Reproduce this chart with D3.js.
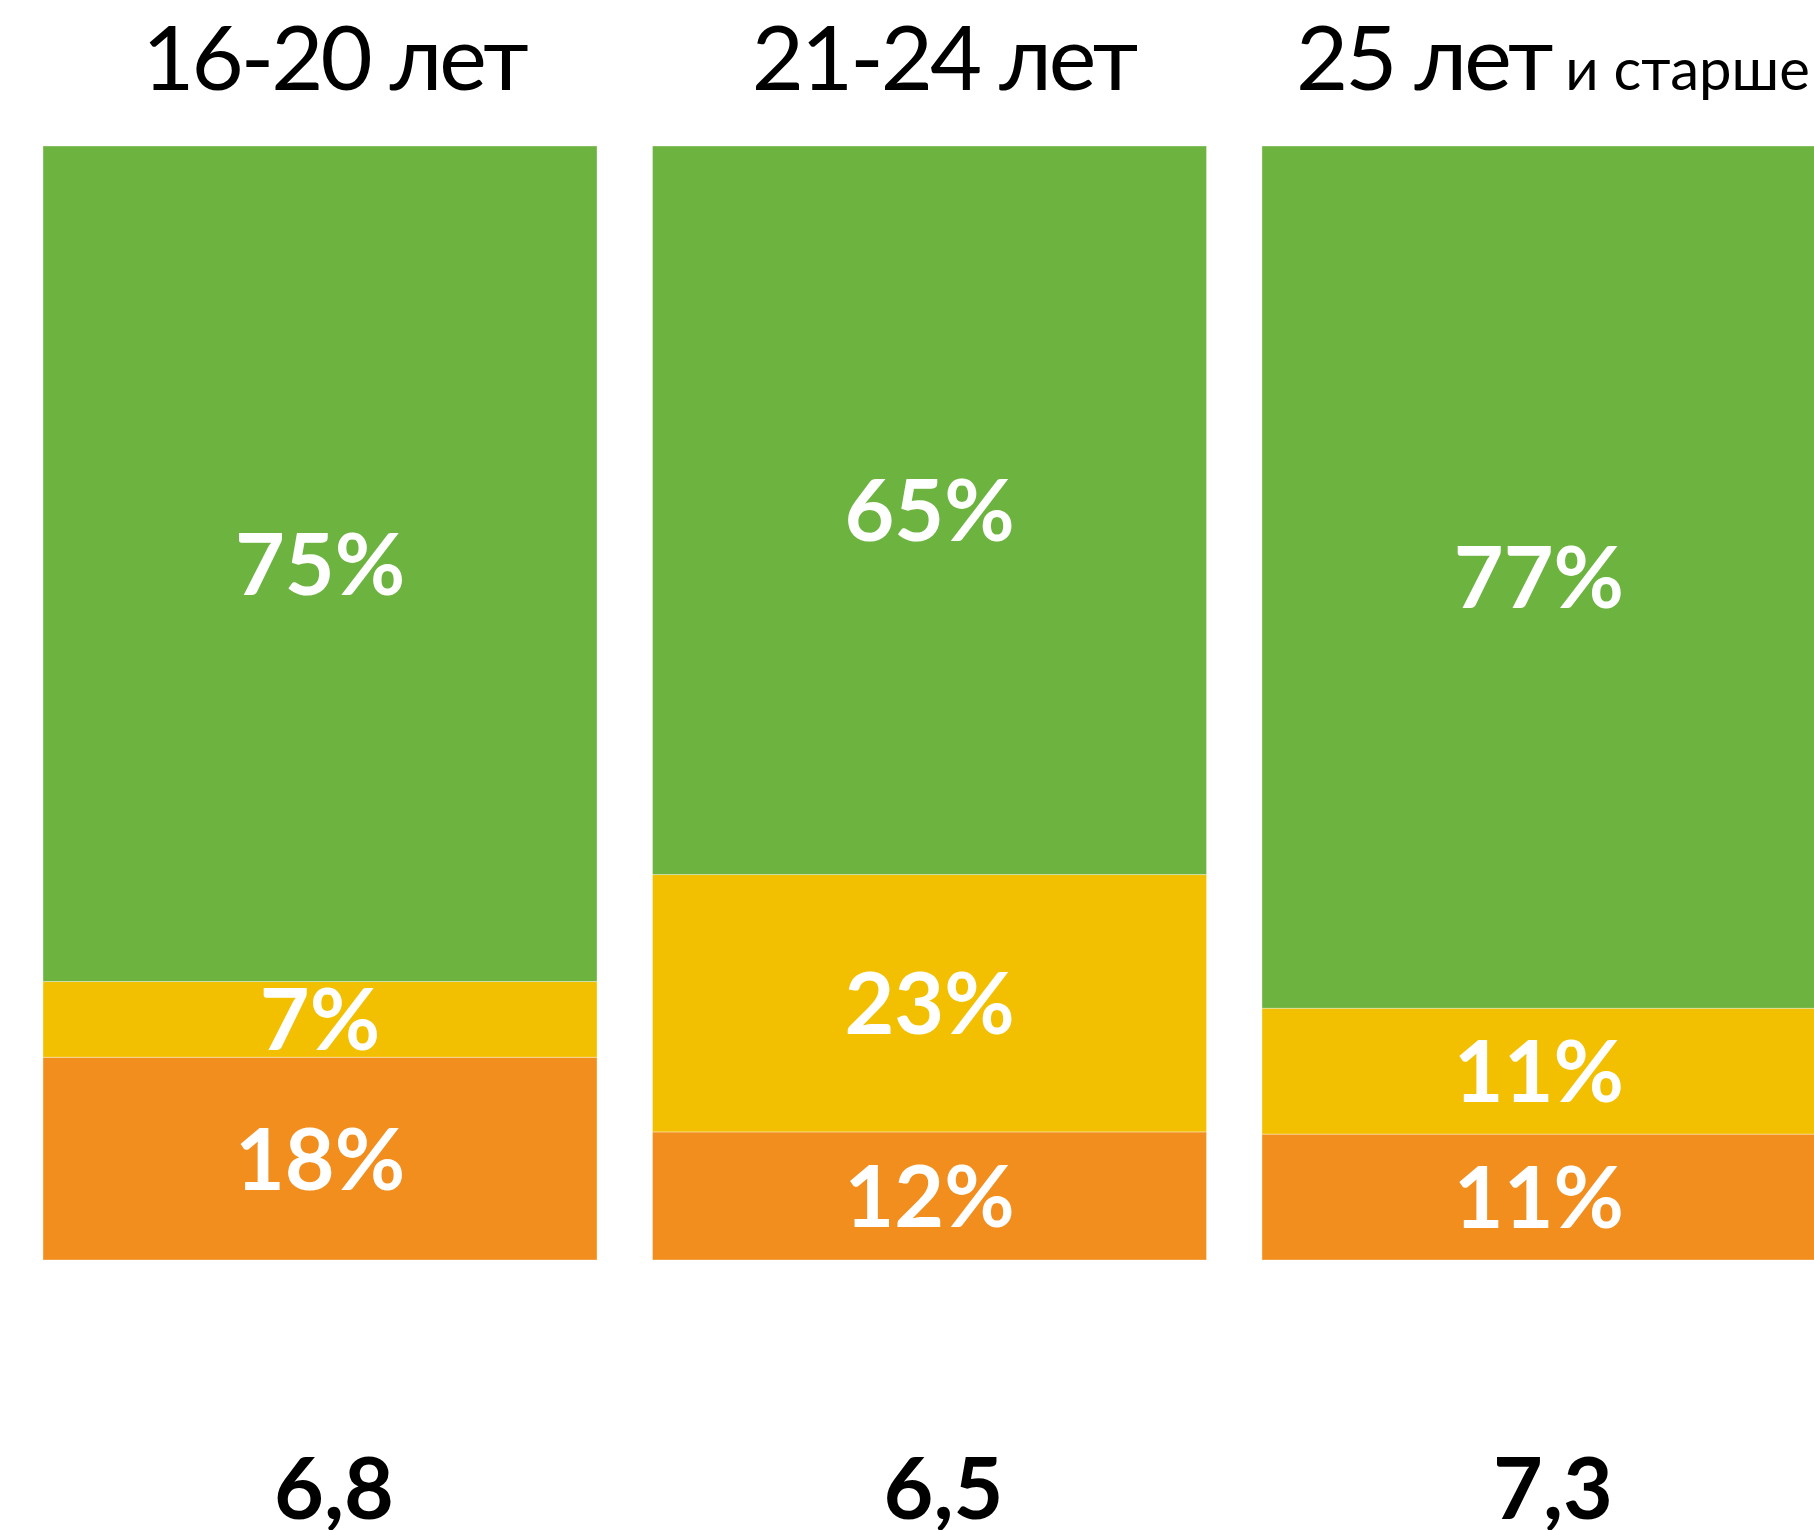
<!DOCTYPE html>
<html>
<head>
<meta charset="utf-8">
<script src="https://cdn.jsdelivr.net/npm/d3@7"></script>
<style>
  html, body { margin: 0; padding: 0; background: #fff; }
  svg { display: block; }
</style>
</head>
<body>
<svg id="chart"></svg>
<script>
// Age groups (titles split in big + small part)
var groups = ["16-20 лет", "21-24 лет", "25 лет"];
var groupSuffix = ["", "", "и старше"];

// Share of each segment per group, in %
var green  = [75.0, 65.4, 77.4];
var yellow = [6.8, 23.1, 11.3];
var orange = [18.2, 11.5, 11.3];

// Score under every column
var scores = ["6,8", "6,5", "7,3"];

var width = 1814,
    height = 1530;

var colour = d3.scaleOrdinal()
  .domain(["orange", "yellow", "green"])
  .range(["#F28E1E", "#F2C000", "#6DB33F"]);

var table = groups.map(function (g, i) {
  return { group: g, orange: orange[i], yellow: yellow[i], green: green[i] };
});

var stack = d3.stack().keys(["orange", "yellow", "green"]);
var series = stack(table);

// x: one band per group, last column runs off the right edge
var x = d3.scaleBand()
  .domain(groups)
  .range([43, 1816])
  .paddingInner(0.091)
  .paddingOuter(0);

var y = d3.scaleLinear()
  .domain([0, 100])
  .range([1260, 146]);

var svg = d3.select("#chart")
  .attr("width", width)
  .attr("height", height);

// stacked segments
var layer = svg.selectAll(".layer")
  .data(series)
  .enter().append("g")
  .attr("class", "layer")
  .attr("fill", function (d) { return colour(d.key); });

layer.selectAll("rect")
  .data(function (d) { return d; })
  .enter().append("rect")
  .attr("x", function (d) { return x(d.data.group); })
  .attr("y", function (d) { return y(d[1]); })
  .attr("width", x.bandwidth())
  .attr("height", function (d) { return y(d[0]) - y(d[1]); })
  .attr("stroke", "rgba(255,255,255,0.35)")
  .attr("stroke-width", 1);

// percent labels inside segments
layer.selectAll("text")
  .data(function (d) { return d; })
  .enter().append("text")
  .attr("x", function (d) { return x(d.data.group) + x.bandwidth() / 2; })
  .attr("y", function (d) { return (y(d[0]) + y(d[1])) / 2; })
  .attr("dy", "0.36em")
  .attr("text-anchor", "middle")
  .attr("fill", "#fff")
  .style("font-family", "Lato, 'Open Sans', sans-serif")
  .style("font-weight", "bold")
  .style("font-size", "86px")
  .text(function (d) { return Math.round(d[1] - d[0]) + "%"; });

// titles above the columns
var title = svg.selectAll(".title")
  .data(groups)
  .enter().append("text")
  .attr("class", "title")
  .attr("x", function (d) { return x(d) + x.bandwidth() / 2 + 14; })
  .attr("y", 90)
  .attr("text-anchor", "middle")
  .attr("fill", "#000")
  .style("font-family", "Lato, 'Open Sans', sans-serif");

title.append("tspan")
  .style("font-size", "90px")
  .style("letter-spacing", "-3px")
  .text(function (d) { return d; });

title.append("tspan")
  .style("font-size", "58px")
  .text(function (d, i) { return groupSuffix[i] ? " " + groupSuffix[i] : ""; });

// scores below
svg.selectAll(".score")
  .data(scores)
  .enter().append("text")
  .attr("class", "score")
  .attr("x", function (d, i) { return x(groups[i]) + x.bandwidth() / 2 + 14; })
  .attr("y", 1519)
  .attr("text-anchor", "middle")
  .attr("fill", "#000")
  .style("font-family", "Lato, 'Open Sans', sans-serif")
  .style("font-weight", "bold")
  .style("font-size", "86px")
  .text(function (d) { return d; });
</script>
</body>
</html>
